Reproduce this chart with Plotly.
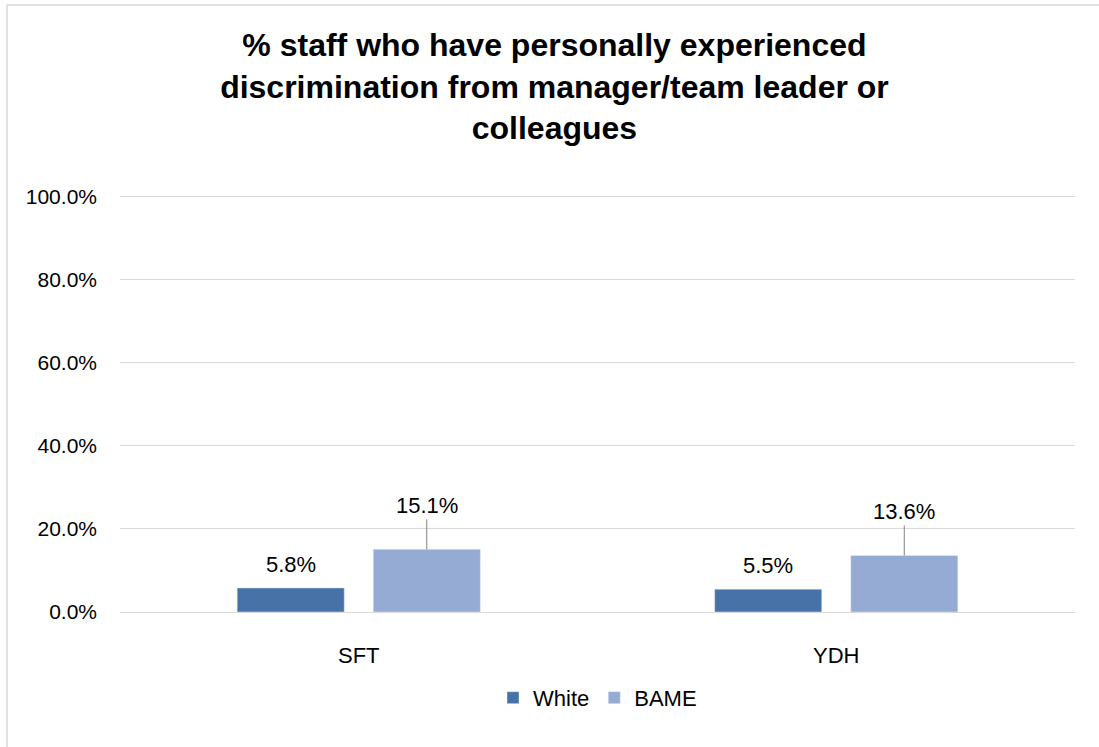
import plotly.graph_objects as go

categories = ["SFT", "YDH"]
white_vals = [5.8, 5.5]
bame_vals = [15.1, 13.6]
series_names = ["White", "BAME"]
tick_vals = [0, 20, 40, 60, 80, 100]
tick_text = ["0.0%", "20.0%", "40.0%", "60.0%", "80.0%", "100.0%"]
title_text = "% staff who have personally experienced<br>discrimination from manager/team leader or<br>colleagues"

FONT = "Liberation Sans"
C_WHITE = "#4672A8"
C_BAME = "#96ABD4"

fig = go.Figure()
fig.add_trace(go.Bar(x=categories, y=white_vals, name=series_names[0], marker_color=C_WHITE))
fig.add_trace(go.Bar(x=categories, y=bame_vals, name=series_names[1], marker_color=C_BAME))

annotations = []
for i, c in enumerate(categories):
    annotations.append(dict(x=c, y=white_vals[i], xref="x", yref="y", xshift=-68,
                            text=f"{white_vals[i]:.1f}%", showarrow=False, yanchor="bottom", yshift=9,
                            font=dict(family=FONT, size=22, color="#000000")))
    annotations.append(dict(x=c, y=bame_vals[i], xref="x", yref="y", xshift=68,
                            text=f"{bame_vals[i]:.1f}%", showarrow=True, arrowhead=0, arrowwidth=1,
                            arrowcolor="#808080", ax=0, ay=-44,
                            font=dict(family=FONT, size=22, color="#000000")))

fig.update_layout(
    width=1099, height=747,
    margin=dict(l=120, r=24, t=195, b=135),
    paper_bgcolor="white", plot_bgcolor="white",
    barmode="group", bargap=0.43, bargroupgap=0.213,
    title=dict(text=title_text, x=0.5045, xanchor="center", y=0.925, yanchor="middle",
               font=dict(family=FONT, size=32, color="#000000", weight="bold")),
    font=dict(family=FONT, size=21, color="#000000"),
    legend=dict(orientation="h", x=0.5, xanchor="center", y=-0.206, yanchor="middle",
                font=dict(family=FONT, size=22, color="#000000"), itemwidth=30),
    annotations=annotations,
    yaxis=dict(range=[0, 100.4], tickvals=tick_vals, ticktext=tick_text, showgrid=True,
               gridcolor="#D9D9D9", gridwidth=1, zeroline=True, zerolinecolor="#D9D9D9",
               zerolinewidth=1, showline=False, ticks="", ticklabelstandoff=22,
               tickfont=dict(family=FONT, size=21)),
    xaxis=dict(showline=False, ticks="", ticklabelstandoff=28, tickfont=dict(family=FONT, size=22)),
    shapes=[dict(type="rect", xref="paper", yref="paper", x0=-0.1183, x1=1.1, y0=-0.5, y1=1.4556,
                 line=dict(color="#D9D9D9", width=1.5), fillcolor="rgba(0,0,0,0)", layer="below")],
)

fig.write_html("out.html")
